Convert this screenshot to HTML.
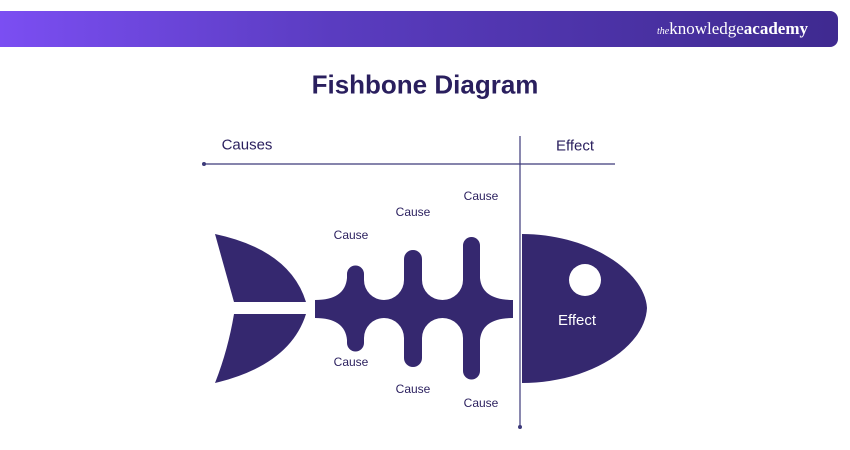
<!DOCTYPE html>
<html><head><style>
body{margin:0;width:850px;height:450px;background:#fff;overflow:hidden;font-family:"Liberation Sans",sans-serif;position:relative}
.banner{position:absolute;left:0;top:11px;width:838px;height:36px;border-radius:0 8px 8px 0;background:linear-gradient(90deg,#7b4ef2,#5a3cc0 40%,#3f2a90)}
.logo{position:absolute;right:30px;top:8px;color:#fff;font-family:"Liberation Serif",serif;font-size:17px}
.t{position:absolute;color:#2a1f5e;white-space:nowrap;transform:translate(-50%,-50%)}
</style></head><body>
<div class="banner"><div class="logo"><i style="font-size:10px">the</i>knowledge<b>academy</b></div></div>
<div class="t" style="left:425px;top:85px;font-size:26px;font-weight:bold">Fishbone Diagram</div>
<div class="t" style="left:247px;top:145px;font-size:15px">Causes</div>
<div class="t" style="left:575px;top:146px;font-size:15px">Effect</div>
<div class="t" style="left:351px;top:235px;font-size:12px">Cause</div>
<div class="t" style="left:413px;top:212px;font-size:12px">Cause</div>
<div class="t" style="left:481px;top:196px;font-size:12px">Cause</div>
<div class="t" style="left:351px;top:362px;font-size:12px">Cause</div>
<div class="t" style="left:413px;top:389px;font-size:12px">Cause</div>
<div class="t" style="left:481px;top:403px;font-size:12px">Cause</div>
<svg width="850" height="450" style="position:absolute;left:0;top:0">
<g stroke="#3d3a7a" stroke-width="1.2">
<line x1="204" y1="164" x2="615" y2="164"/>
<line x1="520" y1="136" x2="520" y2="427"/>
</g>
<circle cx="204" cy="164" r="2" fill="#3d3a7a"/>
<circle cx="520" cy="427" r="2" fill="#3d3a7a"/>
<g fill="#35286f">
<path d="M215,234 Q290,250 306,302 L234,302 Q225,270 215,234Z"/>
<path d="M234,314 L306,314 Q290,365 215,383 Q228,350 234,314Z"/>
<path d="M315,300 Q345,300 347,278 L347,274 A8.5,8.5 0 0 1 364,274 L364,280 A20,20 0 0 0 404,280 L404,259 A9,9 0 0 1 422,259 L422,280 A20.5,20 0 0 0 463,280 L463,245.5 A8.5,8.5 0 0 1 480,245.5 L480,278 Q482,300 513,300 L513,318 Q482,318 480,340 L480,371 A8.5,8.5 0 0 1 463,371 L463,338 A20.5,20 0 0 0 422,338 L422,358 A9,9 0 0 1 404,358 L404,338 A20,20 0 0 0 364,338 L364,343 A8.5,8.5 0 0 1 347,343 L347,340 Q345,318 315,318Z"/>
<path d="M522,234 C590,234 645,272 647,308 C645,347 590,383 522,383Z"/>
</g>
<circle cx="585" cy="280" r="16" fill="#fff"/>
<text x="577" y="325" fill="#fff" font-size="15" text-anchor="middle" font-family="Liberation Sans">Effect</text>
</svg>
</body></html>
